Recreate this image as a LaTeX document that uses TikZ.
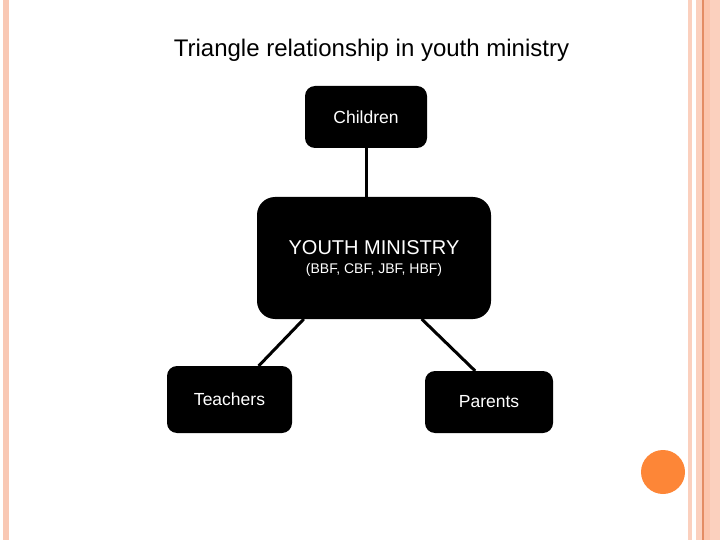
\documentclass[tikz,border=0pt]{standalone}
\usepackage{fontspec}
\setmainfont{Liberation Sans}
\usetikzlibrary{positioning, calc}
\definecolor{stripe}{RGB}{249,200,180}
\definecolor{stripelight}{RGB}{251,208,190}
\definecolor{stripedark}{RGB}{228,140,100}
\definecolor{stripepeach}{RGB}{252,196,172}
\definecolor{dotorange}{RGB}{253,134,55}

\begin{document}
\begin{tikzpicture}[x=1pt, y=-1pt, line width=3pt,
    main/.style = {draw=none, fill=black, rounded corners=10pt, text=white, inner sep=0pt, outer sep=0pt, font=\fontsize{17.5}{21}\selectfont},
    hub/.style = {main, rounded corners=18pt, align=center}]
            \useasboundingbox (0,0) rectangle (720,540);
            % frame
            \fill[stripe] (3,0) rectangle (9,540);
            \fill[stripelight] (688,0) rectangle (692,540);
            \fill[stripelight] (696,0) rectangle (702,540);
            \fill[stripedark] (702,0) rectangle (703.5,540);
            \fill[stripepeach] (703.5,0) rectangle (710,540);
            \fill[stripelight] (710,0) rectangle (720,540);
            \fill[dotorange] (663,472) circle (22);
            \node (title) at (371.5,50) {\fontsize{24}{28}\selectfont Triangle relationship in youth ministry};
            \node[main, minimum width=122pt, minimum height=62pt] (c) at (366,117) {Children};
            \node[hub, minimum width=234pt, minimum height=122pt] (y) at (374,258) {\fontsize{20}{24}\selectfont YOUTH MINISTRY\\[-2pt]\fontsize{14}{17}\selectfont (BBF, CBF, JBF, HBF)};
            \node[main, minimum width=125pt, minimum height=67pt] (t) at (229.5,399.5) {Teachers};
            \node[main, minimum width=128pt, minimum height=62pt] (p) at (489,402) {Parents};
            \draw (c.south) -- (c.south |- y.north);
            \draw (y.221.5) -- (t.49.6);
            \draw (y.308.2) -- (p.114.3);
        \end{tikzpicture}
\end{document}
